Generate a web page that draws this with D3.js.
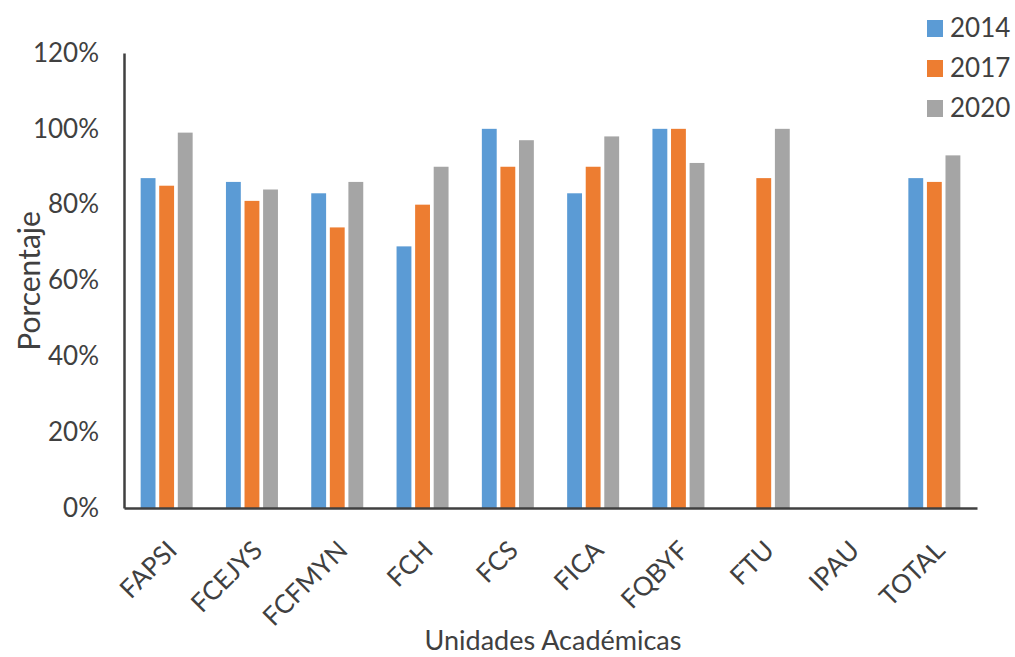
<!DOCTYPE html>
<html>
<head>
<meta charset="utf-8">
<script src="https://cdn.jsdelivr.net/npm/d3@7"></script>
<style>
  html, body { margin: 0; padding: 0; background: #fff; }
  svg { display: block; }
  text { font-family: Lato, "Liberation Sans", Arial, sans-serif; fill: #404040; }
</style>
</head>
<body>
<svg id="chart" width="1015" height="657"></svg>
<script>
// Academic units on the x axis
const categories = ["FAPSI", "FCEJYS", "FCFMYN", "FCH", "FCS", "FICA", "FQBYF", "FTU", "IPAU", "TOTAL"];
// Percentages per year (null = no data)
const years = ["2014", "2017", "2020"];
const values2014 = [87, 86, 83, 69, 100, 83, 100, null, null, 87];
const values2017 = [85, 81, 74, 80, 90, 90, 100, 87, null, 86];
const values2020 = [99, 84, 86, 90, 97, 98, 91, 100, null, 93];
const yTicks = [0, 20, 40, 60, 80, 100, 120];
const colors = ["#5B9BD5", "#ED7D31", "#A5A5A5"];

const seriesValues = [values2014, values2017, values2020];

const svg = d3.select("#chart");
const plotLeft = 124, plotRight = 977, plotTop = 53, plotBottom = 508;

const x = d3.scaleBand().domain(categories).range([plotLeft, plotRight]).paddingInner(0).paddingOuter(0);
const groupWidth = 52;
const xInner = d3.scaleBand().domain(years)
  .range([x.bandwidth() / 2 - groupWidth / 2, x.bandwidth() / 2 + groupWidth / 2])
  .paddingInner(0.2).paddingOuter(0);
const y = d3.scaleLinear().domain([0, 120]).range([plotBottom, plotTop]);

// Bars
const groups = svg.append("g").selectAll("g")
  .data(categories)
  .join("g")
  .attr("transform", d => `translate(${x(d)},0)`);

groups.selectAll("rect")
  .data((c, i) => years.map((yr, s) => ({ yr, s, v: seriesValues[s][i] })).filter(d => d.v != null))
  .join("rect")
  .attr("x", d => xInner(d.yr))
  .attr("width", xInner.bandwidth())
  .attr("y", d => y(d.v))
  .attr("height", d => y(0) - y(d.v))
  .attr("fill", d => colors[d.s]);

const fontStack = 'Lato, "Liberation Sans", Arial, sans-serif';

// Y axis
const yAxis = d3.axisLeft(y).tickValues(yTicks).tickFormat(d => d + "%").tickSize(0).tickPadding(25);
const gy = svg.append("g").attr("transform", `translate(${plotLeft},0)`).call(yAxis);
gy.select(".domain").attr("stroke", "#404040").attr("stroke-width", 2.5);
gy.selectAll("text").attr("font-size", 26).attr("fill", "#404040").style("font-family", fontStack);

// X axis
const xAxis = d3.axisBottom(x).tickSize(0).tickPadding(0);
const gx = svg.append("g").attr("transform", `translate(0,${plotBottom})`).call(xAxis);
gx.select(".domain").attr("stroke", "#404040").attr("stroke-width", 2.5);
gx.selectAll("text")
  .attr("font-size", 26)
  .attr("fill", "#404040")
  .style("font-family", fontStack)
  .attr("text-anchor", "end")
  .attr("dy", 0)
  .attr("y", 0)
  .attr("transform", "translate(12,44) rotate(-45)");

// Axis titles
svg.append("text")
  .attr("x", 553).attr("y", 650)
  .attr("text-anchor", "middle")
  .attr("font-size", 27)
  .text("Unidades Académicas");

svg.append("text")
  .attr("transform", "translate(40,281) rotate(-90)")
  .attr("text-anchor", "middle")
  .attr("font-size", 30)
  .text("Porcentaje");

// Legend
const legend = svg.append("g").selectAll("g")
  .data(years)
  .join("g")
  .attr("transform", (d, i) => `translate(927,${20 + i * 40})`);
legend.append("rect").attr("width", 16).attr("height", 17).attr("fill", (d, i) => colors[i]);
legend.append("text").attr("x", 23).attr("y", 17).attr("font-size", 26).text(d => d);
</script>
</body>
</html>
